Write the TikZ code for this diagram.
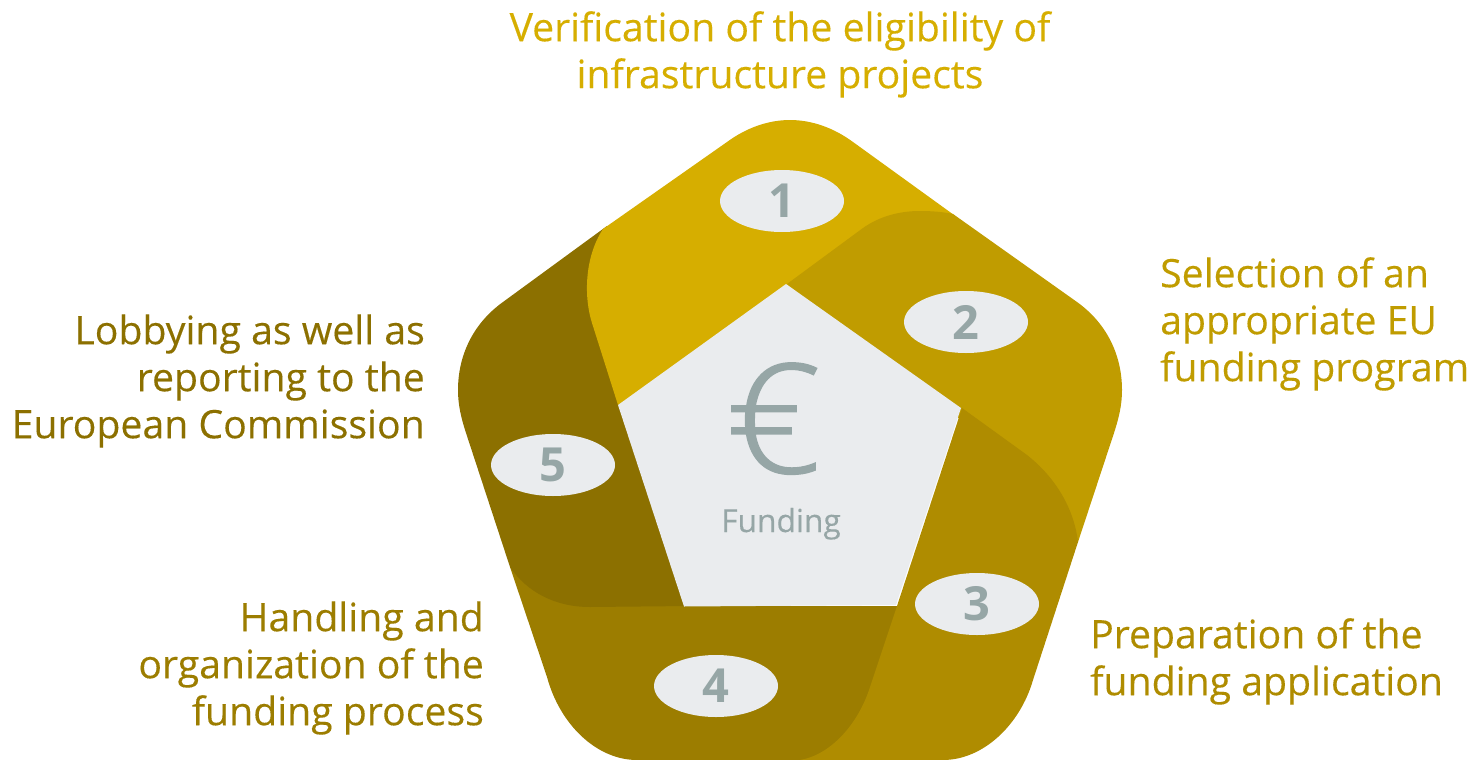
\documentclass[tikz,border=0pt]{standalone}
\usepackage{fontspec}
\setmainfont{Open Sans}[FakeBold=0.25]
\newfontfamily\plainfont{Open Sans}
\newfontfamily\eurofont{Open Sans Light}[FakeBold=0.9]
\usetikzlibrary{shapes.geometric}
\definecolor{cA}{HTML}{D6AE00}
\definecolor{cB}{HTML}{C09C00}
\definecolor{cC}{HTML}{AF8C00}
\definecolor{cD}{HTML}{9C7D00}
\definecolor{cE}{HTML}{8C7000}
\definecolor{pale}{HTML}{EAECEE}
\definecolor{slate}{HTML}{96A6A6}
\newcommand\lh{\rule{0pt}{32pt}}
\tikzset{
  badge/.style={ellipse,fill=pale,minimum width=124pt,minimum height=62pt,inner sep=0pt,text=slate,font=\fontsize{47}{47}\plainfont\bfseries},
  lab/.style={inner sep=0pt,font=\fontsize{39.2}{47}\selectfont}
}
\begin{document}
\begin{tikzpicture}[x=1pt,y=-1pt]
\useasboundingbox (0,0) rectangle (1475,760);
% segment 4
\fill[cD] (510,567) -- (547,677) .. controls (560,725) and (597,760) .. (637,760) -- (840,760) -- (910,640) -- (897,606) -- (684,606) -- cycle;
% segment 5
\fill[cE] (607,226) -- (503,302) .. controls (471,325) and (458,358) .. (458,390) .. controls (458,405) and (461,418) .. (467,436) -- (510,567) .. controls (527,592) and (555,607) .. (590,607) -- (690,606) -- (630,400) -- cycle;
% segment 1
\fill[cA] (603,229) -- (727,142) .. controls (746,128) and (768,120) .. (790,120) .. controls (812,120) and (834,128) .. (853,142) -- (954,215) -- (800,300) -- (618,405) -- (592,323) .. controls (584,298) and (584,258) .. (603,229) -- cycle;
% segment 2
\fill[cB] (787,284) -- (863,228) .. controls (880,216) and (900,211) .. (920,211) .. controls (932,211) and (944,212) .. (953,214) -- (1077,302) .. controls (1109,325) and (1122,358) .. (1122,390) .. controls (1122,405) and (1119,418) .. (1113,436) -- (1078,542) -- (961,420) -- cycle;
% segment 3
\fill[cC] (962,408) -- (1027,455) .. controls (1055,477) and (1074,508) .. (1078,542) -- (1033,680) .. controls (1020,725) and (983,760) .. (943,760) -- (800,760) .. controls (830,755) and (858,725) .. (870,687) -- (897,606) -- cycle;
% centre
\fill[pale] (786,284) -- (961,408) -- (896,605) -- (684,606.5) -- (618,405) -- cycle;
\node[inner sep=0pt,text=slate,font=\fontsize{152}{152}\eurofont,anchor=base,xscale=1.1] (euro) at (773.5,473) {€};
\node[inner sep=0pt,text=slate,font=\fontsize{31.7}{32}\selectfont,anchor=base] (fund) at (781,532) {Funding};
\node[badge] (n1) at (782,201) {1};
\node[badge] (n2) at (966,322) {2};
\node[badge] (n3) at (977,604) {3};
\node[badge] (n4) at (716,686) {4};
\node[badge] (n5) at (553,465) {5};
\node[lab,text=cA,align=center,anchor=north] (t1) at (780,9) {\lh Verification of the eligibility of\\infrastructure projects};
\node[lab,text=cB,align=left,anchor=north west] (t2) at (1160,255) {\lh Selection of an\\appropriate EU\\funding program};
\node[lab,text=cC,align=left,anchor=north west] (t3) at (1090,616) {\lh Preparation of the\\funding application};
\node[lab,text=cD,align=right,anchor=north east] (t4) at (484,599) {\lh Handling and\\organization of the\\funding process};
\node[lab,text=cE,align=right,anchor=north east] (t5) at (425,312) {\lh Lobbying as well as\\reporting to the\\European Commission};
\end{tikzpicture}
\end{document}
